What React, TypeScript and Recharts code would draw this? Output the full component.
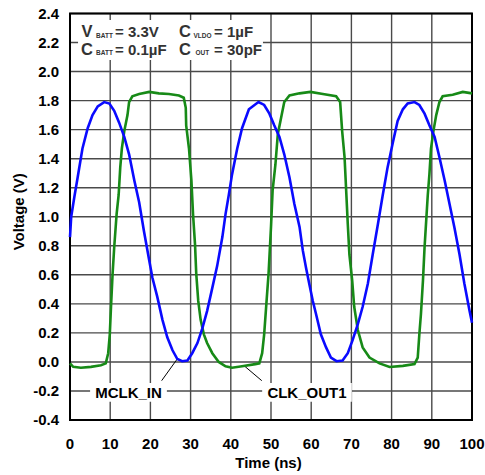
import React from 'react';
import { LineChart, Line, XAxis, YAxis, CartesianGrid, ReferenceArea, ReferenceLine } from 'recharts';

// MCLK_IN (blue), time in ns / voltage in V
const mclkTime = [
  0, 0.3, 1.1, 1.9, 3.1, 4.4, 5.6, 6.9, 8.5, 9.8, 11, 12.2, 13.5, 14.7, 16, 17.2, 18.4, 19.7, 20.5, 21.7,
  23, 24.2, 25.5, 26.7, 27.9, 29.2, 30.4, 31.7, 32.9, 34.1, 35.4, 36.6, 37.9, 38.7, 39.5, 40.3, 41.6, 42.8,
  44.5, 45.9, 46.9, 48.3, 49.6, 50.8, 52.1, 53.3, 54.6, 55.8, 57.1, 57.9, 58.7, 59.5, 60.4, 61.2, 62.4, 63.7,
  64.9, 66.3, 67.8, 69.1, 70.3, 71.6, 72.8, 74.1, 75.3, 76.6, 77.8, 79.0, 80.3, 81.5, 82.8, 84.0, 85.7, 86.9,
  88.2, 89.4, 90.7, 91.9, 93.2, 94.4, 95.6, 96.9, 98.1, 99.4, 100,
];
const mclkVolt = [
  0.86, 1.0, 1.14, 1.27, 1.47, 1.61, 1.7, 1.76, 1.79, 1.78, 1.73, 1.65, 1.55, 1.43, 1.25, 1.1, 0.9, 0.7, 0.58, 0.45,
  0.29, 0.17, 0.08, 0.02, 0.005, 0.01, 0.06, 0.13, 0.23, 0.35, 0.51, 0.66, 0.86, 1.02, 1.15, 1.29, 1.47, 1.61,
  1.74, 1.77, 1.79, 1.77, 1.71, 1.63, 1.55, 1.43, 1.27, 1.09, 0.93, 0.77, 0.65, 0.54, 0.42, 0.33, 0.19, 0.1,
  0.03, 0.005, 0.01, 0.06, 0.15, 0.26, 0.38, 0.54, 0.74, 0.95, 1.15, 1.34, 1.51, 1.66, 1.74, 1.78, 1.79, 1.77,
  1.71, 1.63, 1.55, 1.41, 1.25, 1.09, 0.93, 0.74, 0.54, 0.35, 0.27,
];

// CLK_OUT1 (green)
const clkTime = [
  0, 0.8, 2.7, 5.2, 7.7, 8.9, 9.5, 9.9, 10.2, 10.6, 11, 11.6, 12.1, 12.5, 12.9, 13.5, 14.3, 14.7, 15.5, 17.2,
  19.7, 22.1, 24.6, 27.1, 28.3, 28.8, 28.9, 29.6, 30.2, 30.6, 31.1, 31.4, 31.9, 32.5, 33.3, 34.1, 35.4, 37,
  38.7, 40.3, 42.8, 46.1, 47.1, 47.8, 48.3, 48.9, 49.4, 50, 50.4, 51.1, 51.7, 52.5, 53.3, 54.6, 57.1, 59.8,
  62.9, 66.2, 67.2, 67.7, 68.3, 68.7, 69.1, 69.5, 70.2, 70.7, 71.6, 72.8, 74.5, 77, 79.5, 82.8, 85.7, 86.5,
  86.9, 87.3, 87.8, 88.2, 88.6, 89.0, 89.4, 89.8, 90.4, 91.1, 91.9, 92.7, 95.2, 97.7, 100,
];
const clkVolt = [
  -0.01, -0.034, -0.04, -0.034, -0.023, -0.01, 0.06, 0.19, 0.38, 0.61, 0.79, 1.02, 1.15, 1.34, 1.47, 1.59, 1.7, 1.79, 1.83, 1.845,
  1.86, 1.85, 1.845, 1.835, 1.82, 1.75, 1.63, 1.47, 1.25, 1.02, 0.81, 0.61, 0.42, 0.29, 0.19, 0.13, 0.06, 0.0,
  -0.03, -0.04, -0.03, -0.015, -0.01, 0.06, 0.19, 0.42, 0.61, 0.93, 1.18, 1.36, 1.57, 1.68, 1.79, 1.835, 1.85, 1.86,
  1.845, 1.83, 1.79, 1.59, 1.41, 1.18, 0.95, 0.74, 0.56, 0.38, 0.22, 0.1, 0.03, -0.01, -0.035, -0.027, -0.015, 0.03,
  0.19, 0.33, 0.56, 0.79, 0.97, 1.15, 1.29, 1.47, 1.59, 1.7, 1.79, 1.83, 1.84, 1.86, 1.85,
];

const xTicks = [0, 10, 20, 30, 40, 50, 60, 70, 80, 90, 100];
const yTicks = [-0.4, -0.2, 0, 0.2, 0.4, 0.6, 0.8, 1.0, 1.2, 1.4, 1.6, 1.8, 2.0, 2.2, 2.4];

const mclkData = mclkTime.map((t, i) => ({ t, v: mclkVolt[i] }));
const clkData = clkTime.map((t, i) => ({ t, v: clkVolt[i] }));

const FONT = '"Liberation Sans", Arial, sans-serif';
const bold = { fontFamily: FONT, fontWeight: 'bold' as const };

function XTick(props: any) {
  const { x, y, payload } = props;
  return (
    <text x={x} y={y + 29} textAnchor="middle" fontSize={15} fill="#000" {...bold}>
      {payload.value}
    </text>
  );
}

function YTick(props: any) {
  const { x, y, payload } = props;
  return (
    <text x={x - 11} y={y + 5} textAnchor="end" fontSize={15} fill="#000" {...bold}>
      {Number(payload.value).toFixed(1)}
    </text>
  );
}

function TimeLabel(props: any) {
  const vb = props.viewBox;
  return (
    <text x={vb.x + vb.width / 2 - 2.5} y={vb.y + 47.5} textAnchor="middle" fontSize={15} fill="#000" {...bold}>
      Time (ns)
    </text>
  );
}

function VoltLabel(props: any) {
  const vb = props.viewBox;
  const cy = vb.y + vb.height / 2 - 5;
  return (
    <text x={24} y={cy} transform={`rotate(-90 24 ${cy})`} textAnchor="middle" fontSize={15} fill="#000" {...bold}>
      Voltage (V)
    </text>
  );
}

// test conditions box, top left
function Conditions(props: any) {
  const { x, y } = props.viewBox;
  const sym = { ...bold, fontSize: 16.5, fill: '#333' };
  const main = { ...bold, fontSize: 15, fill: '#333' };
  const sub = { ...bold, fontSize: 6.5, fill: '#333' };
  return (
    <g>
      <text x={x + 3.5} y={y + 16.7} {...sym}>V</text>
      <text x={x + 18} y={y + 17.5} {...sub}>BATT</text>
      <text x={x + 37} y={y + 16.7} {...main}>= 3.3V</text>
      <text x={x + 101} y={y + 16.7} {...sym}>C</text>
      <text x={x + 115.5} y={y + 17.5} {...sub}>VLDO</text>
      <text x={x + 136} y={y + 16.7} {...main}>= 1µF</text>
      <text x={x + 3} y={y + 34.5} {...sym}>C</text>
      <text x={x + 18} y={y + 35.3} {...sub}>BATT</text>
      <text x={x + 37} y={y + 34.5} {...main}>= 0.1µF</text>
      <text x={x + 101} y={y + 34.5} {...sym}>C</text>
      <text x={x + 117.5} y={y + 35.3} {...sub}>OUT</text>
      <text x={x + 136} y={y + 34.5} {...main}>= 30pF</text>
    </g>
  );
}

const nameLabel = (name: string) => (props: any) => {
  const { x, y, width, height } = props.viewBox;
  return (
    <text x={x + width / 2} y={y + height / 2 + 5.4} textAnchor="middle" fontSize={15} fill="#000" {...bold}>
      {name}
    </text>
  );
};

export default function App() {
  return (
    <div style={{ position: 'absolute', left: 0, top: 0, background: '#fff' }}>
      <LineChart width={485} height={475} margin={{ top: 13.5, right: 13, bottom: 0, left: 0 }}>
        <CartesianGrid stroke="#4a4a4a" strokeWidth={1.4} />
        <XAxis
          type="number"
          dataKey="t"
          domain={[0, 100]}
          ticks={xTicks}
          tick={<XTick />}
          tickLine={false}
          axisLine={false}
          tickSize={0}
          tickMargin={0}
          height={55}
          label={TimeLabel}
        />
        <YAxis
          type="number"
          dataKey="v"
          domain={[-0.4, 2.4]}
          ticks={yTicks}
          tick={<YTick />}
          tickLine={false}
          axisLine={false}
          tickSize={0}
          tickMargin={0}
          width={70}
          label={VoltLabel}
        />
        <ReferenceArea x1={2} x2={48} y1={2.08} y2={2.355} fill="#fff" fillOpacity={1} stroke="none" label={Conditions} />
        <ReferenceArea x1={5} x2={24.1} y1={-0.275} y2={-0.145} fill="#fff" fillOpacity={1} stroke="none" label={nameLabel('MCLK_IN')} />
        <ReferenceArea x1={47.8} x2={70.1} y1={-0.275} y2={-0.145} fill="#fff" fillOpacity={1} stroke="none" label={nameLabel('CLK_OUT1')} />
        <ReferenceLine segment={[{ x: 22.8, y: -0.129 }, { x: 26.8, y: 0.025 }]} stroke="#000" strokeWidth={1} />
        <ReferenceLine segment={[{ x: 43.3, y: -0.026 }, { x: 47.7, y: -0.129 }]} stroke="#000" strokeWidth={1} />
        <Line data={clkData} dataKey="v" type="linear" stroke="#178a17" strokeWidth={2.6} dot={false} isAnimationActive={false} />
        <Line data={mclkData} dataKey="v" type="linear" stroke="#0a0aff" strokeWidth={2.6} dot={false} isAnimationActive={false} />
        <ReferenceArea x1={0} x2={100} y1={-0.4} y2={2.4} fill="none" stroke="#000" strokeWidth={2} />
      </LineChart>
    </div>
  );
}
